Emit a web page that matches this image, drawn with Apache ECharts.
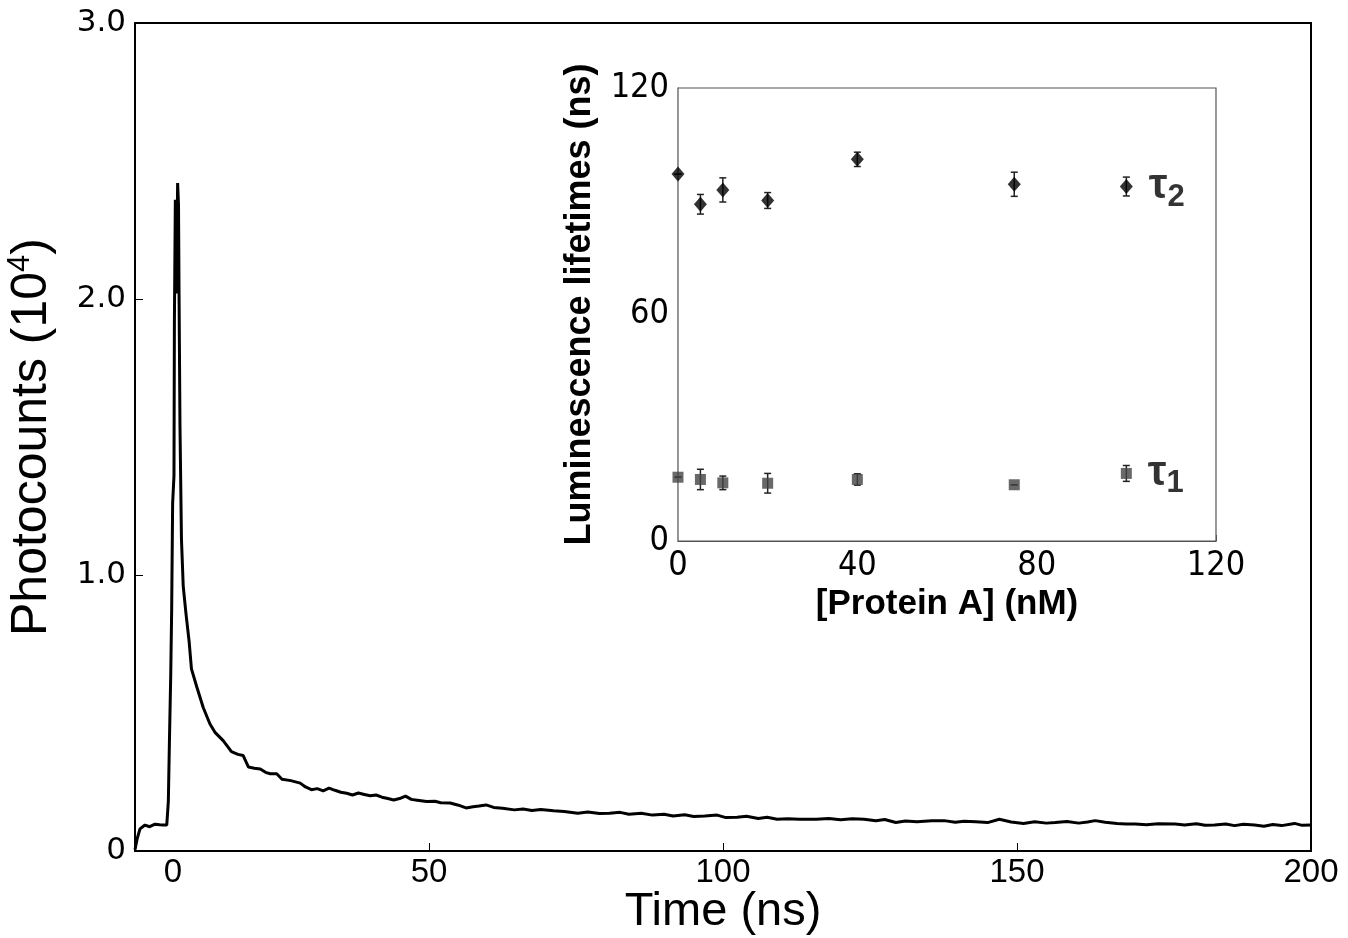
<!DOCTYPE html>
<html>
<head>
<meta charset="utf-8">
<script src="https://cdn.jsdelivr.net/npm/echarts@6/dist/echarts.min.js"></script>
<style>
html,body{margin:0;padding:0;background:#fff;}
#chart{width:1348px;height:938px;}
</style>
</head>
<body>
<div id="chart"></div>
<script>
// ---- Main decay curve: time (ns) vs photocounts (x 10^4) ----
var timeNs = [0,0.4,0.85,1.7,2.5,3.4,4.2,4.8,5.4,5.67,5.84,6.07,6.24,6.4,6.63,6.7,6.86,7.05,7.25,7.4,7.5,7.65,7.9,8.2,8.67,9.2,9.6,10.5,11.6,12.75,13.6,15,16.4,17.5,18.4,19.3,20.3,21.3,22.2,23,24.1,25,26.5,28.1,
29,30,31,32,33,34,35,36,37,38,39,40,41,42,43,44,45,46,47,48,49.6,51,52,53.6,55,56.3,57.5,58.5,59.7,61,62.5,64.5,66,67.5,69,71.2,73,75.3,77,79,80.7,82.5,84,86.1,88,90,91.5,93.5,95,96.9,99,100.5,102.4,104,106,107.5,109.2,111,113,115.9,118,120,122,124,126,127.5,129.4,131,133,135.5,137.6,139.5,141,143,145,147,149,151.1,153,155,156.5,158.5,160.5,162,163.3,165,167,168.5,170.1,172,174,176.9,178.5,180.5,182,183.6,185.5,187,188.5,190.4,192,193.5,195,197.2,198.5,200];
var counts = [0.005,0.047,0.08,0.094,0.088,0.097,0.095,0.094,0.094,0.18,0.38,0.63,0.88,1.26,1.36,1.91,2.36,2.02,2.42,2.34,1.99,1.54,1.13,0.96,0.86,0.76,0.66,0.595,0.52,0.46,0.43,0.40,0.36,0.35,0.346,0.304,0.30,0.297,0.285,0.28,0.28,0.26,0.255,0.246,
0.232,0.222,0.226,0.218,0.228,0.22,0.213,0.209,0.203,0.21,0.205,0.2,0.203,0.195,0.19,0.185,0.19,0.199,0.187,0.184,0.179,0.18,0.175,0.174,0.166,0.156,0.16,0.163,0.167,0.158,0.155,0.149,0.152,0.147,0.15,0.146,0.143,0.137,0.141,0.136,0.137,0.14,0.133,0.137,0.13,0.133,0.127,0.131,0.125,0.127,0.13,0.121,0.122,0.126,0.118,0.122,0.115,0.117,0.115,0.115,0.118,0.113,0.117,0.115,0.11,0.114,0.103,0.109,0.106,0.11,0.11,0.104,0.108,0.106,0.103,0.115,0.105,0.1,0.106,0.101,0.103,0.107,0.101,0.105,0.11,0.104,0.1,0.098,0.098,0.095,0.099,0.098,0.094,0.099,0.093,0.094,0.098,0.092,0.097,0.094,0.09,0.096,0.092,0.1,0.093,0.094];
var mainXTicks = [0, 50, 100, 150, 200];
var mainYTicks = [0, 1.0, 2.0, 3.0];

// ---- Inset: lifetimes vs [Protein A] ----
var proteinNM = [0, 5, 10, 20, 40, 75, 100];
var tau2 = [97.2, 89.2, 93.0, 90.2, 101.1, 94.5, 93.9];
var tau2Err = [0, 2.6, 3.2, 2.1, 1.9, 3.2, 2.5];
var tau1 = [16.9, 16.3, 15.4, 15.3, 16.3, 14.9, 17.9];
var tau1Err = [0, 2.7, 1.8, 2.6, 1.5, 0, 2.1];
var insetXTicks = [0, 40, 80, 120];
var insetYTicks = [0, 60, 120];

var curve = timeNs.map(function (t, i) { return [t, counts[i]]; });

function errData(vals, errs) {
  return proteinNM.map(function (x, i) { return [x, vals[i] - errs[i], vals[i] + errs[i]]; });
}
function errRender(color) {
  return function (params, api) {
    var x = api.value(0), lo = api.value(1), hi = api.value(2);
    var p1 = api.coord([x, lo]), p2 = api.coord([x, hi]);
    var w = 3.5;
    var st = { stroke: color, lineWidth: 1.5 };
    return { type: 'group', children: [
      { type: 'line', shape: { x1: p1[0], y1: p1[1], x2: p2[0], y2: p2[1] }, style: st },
      { type: 'line', shape: { x1: p1[0] - w, y1: p1[1], x2: p1[0] + w, y2: p1[1] }, style: st },
      { type: 'line', shape: { x1: p2[0] - w, y1: p2[1], x2: p2[0] + w, y2: p2[1] }, style: st }
    ] };
  };
}

var tauRich = {
  t: { fontFamily: 'Liberation Sans', fontWeight: 'bold', fontSize: 42, color: '#000', lineHeight: 52, verticalAlign: 'middle' },
  s: { fontFamily: 'Liberation Sans', fontWeight: 'bold', fontSize: 31, color: '#000', lineHeight: 52, verticalAlign: 'bottom' }
};
function pointsWithLabel(vals, sub) {
  return proteinNM.map(function (x, i) {
    var item = { value: [x, vals[i]] };
    if (i === proteinNM.length - 1) {
      item.label = { show: true, position: 'right', distance: 16, formatter: '{t|τ}{s|' + sub + '}', rich: tauRich };
    }
    return item;
  });
}

var chart = echarts.init(document.getElementById('chart'), null, { renderer: 'canvas' });
var narrow = "'Liberation Sans Narrow', 'DejaVu Sans Condensed', 'Liberation Sans', Arial, sans-serif";

chart.setOption({
  animation: false,
  backgroundColor: '#fff',
  grid: [
    { left: 135, top: 23, right: 37, bottom: 87, outerBoundsMode: 'none', containLabel: false,
      show: true, borderColor: '#000', borderWidth: 2, backgroundColor: 'transparent' },
    { left: 678, top: 88, right: 132, bottom: 397, outerBoundsMode: 'none', containLabel: false,
      show: true, borderColor: '#555', borderWidth: 1.2, backgroundColor: '#fff', z: 5 }
  ],
  xAxis: [
    {
      gridIndex: 0, type: 'value', min: 0, max: 200, interval: 50,
      name: 'Time (ns)', nameLocation: 'middle', nameGap: 38, nameMoveOverlap: false,
      nameTextStyle: { fontFamily: 'Liberation Sans', fontSize: 47, color: '#000' },
      axisLine: { lineStyle: { color: '#000', width: 2 } },
      axisTick: { inside: true, length: 8, lineStyle: { color: '#000', width: 1 } },
      splitLine: { show: false },
      axisLabel: {
        margin: 5, color: '#000', fontFamily: 'Liberation Sans', fontSize: 33,
        formatter: function (v) { return v === 0 ? '{z|0}' : String(v); },
        rich: { z: { padding: [0, 0, 0, 76], fontFamily: 'Liberation Sans', fontSize: 33, color: '#000' } }
      }
    },
    {
      gridIndex: 1, type: 'value', min: 0, max: 120, interval: 40,
      name: '[Protein A] (nM)', nameLocation: 'middle', nameGap: 46, nameMoveOverlap: false,
      nameTextStyle: { fontFamily: 'Liberation Sans', fontWeight: 'bold', fontSize: 35, color: '#000' },
      axisLine: { lineStyle: { color: '#555', width: 1.2 } },
      axisTick: { inside: true, length: 6, lineStyle: { color: '#555', width: 1 } },
      splitLine: { show: false },
      axisLabel: { margin: 8, color: '#000', fontFamily: narrow, fontSize: 34 }
    }
  ],
  yAxis: [
    {
      gridIndex: 0, type: 'value', min: 0, max: 3, interval: 1,
      name: 'Photocounts (10{sup|4})', nameLocation: 'middle', nameGap: 76, nameMoveOverlap: false,
      nameTextStyle: {
        fontFamily: 'Liberation Sans', fontSize: 50, color: '#000',
        rich: { sup: { fontFamily: 'Liberation Sans', fontSize: 31, color: '#000', verticalAlign: 'top', lineHeight: 54 } }
      },
      axisLine: { lineStyle: { color: '#000', width: 2 } },
      axisTick: { inside: true, length: 8, lineStyle: { color: '#000', width: 1 } },
      splitLine: { show: false },
      axisLabel: {
        margin: 9, color: '#000', fontFamily: 'DejaVu Sans', fontSize: 31,
        formatter: function (v) { return v === 0 ? '0' : v.toFixed(1); }
      }
    },
    {
      gridIndex: 1, type: 'value', min: 0, max: 120, interval: 60,
      name: 'Luminescence lifetimes (ns)', nameLocation: 'middle', nameGap: 80, nameMoveOverlap: false,
      nameTextStyle: { fontFamily: 'Liberation Sans', fontWeight: 'bold', fontSize: 36, color: '#000', padding: [0, 0, 0, 20] },
      axisLine: { lineStyle: { color: '#555', width: 1.2 } },
      axisTick: { inside: true, length: 6, lineStyle: { color: '#555', width: 1 } },
      splitLine: { show: false },
      axisLabel: { margin: 9, color: '#000', fontFamily: narrow, fontSize: 34 }
    }
  ],
  series: [
    {
      type: 'line', xAxisIndex: 0, yAxisIndex: 0, data: curve,
      showSymbol: false, smooth: false,
      lineStyle: { color: '#000', width: 3 }, z: 2
    },
    {
      type: 'custom', xAxisIndex: 1, yAxisIndex: 1, data: errData(tau2, tau2Err),
      renderItem: errRender('#222'), z: 6
    },
    {
      type: 'custom', xAxisIndex: 1, yAxisIndex: 1, data: errData(tau1, tau1Err),
      renderItem: errRender('#222'), z: 6
    },
    {
      type: 'scatter', xAxisIndex: 1, yAxisIndex: 1, data: pointsWithLabel(tau2, '2'),
      symbol: 'diamond', symbolSize: [13, 15], itemStyle: { color: '#000' }, z: 7
    },
    {
      type: 'scatter', xAxisIndex: 1, yAxisIndex: 1, data: pointsWithLabel(tau1, '1'),
      symbol: 'rect', symbolSize: 11, itemStyle: { color: '#444' }, z: 7
    }
  ]
});
</script>
</body>
</html>
